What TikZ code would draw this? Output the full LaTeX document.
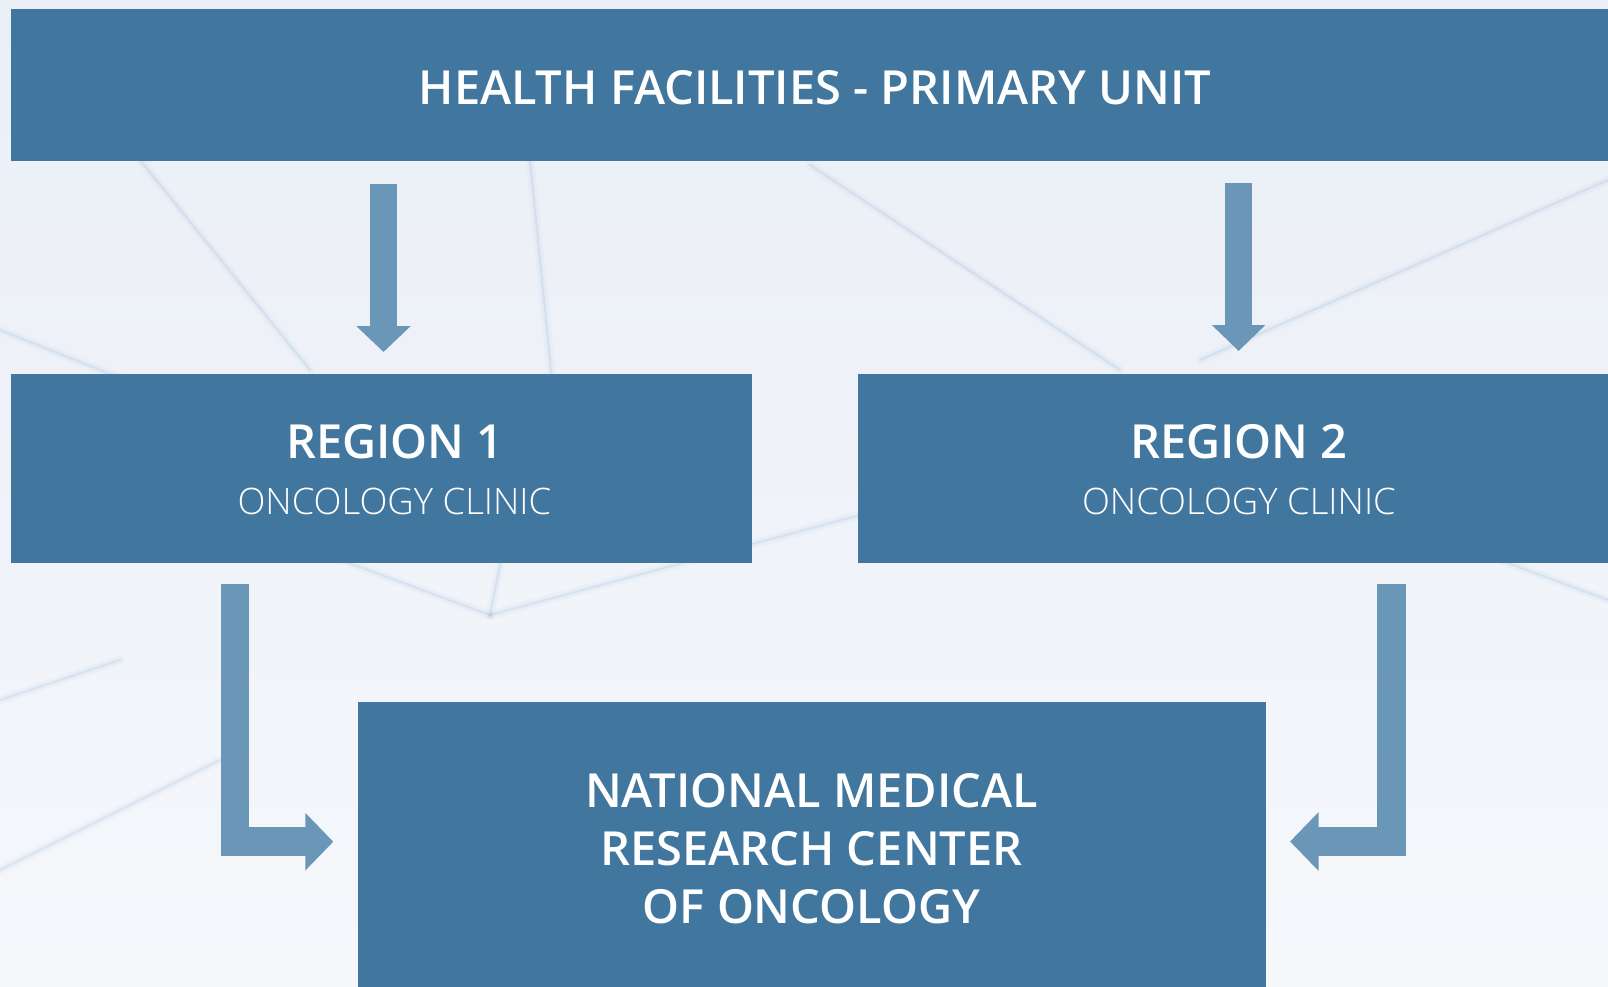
\documentclass[tikz,border=0pt]{standalone}
\usepackage{fontspec}
\setmainfont{Open Sans}
\newfontfamily\semib{Open Sans Semibold}
\newfontfamily\lightf{Open Sans Light}
\usetikzlibrary{arrows.meta}
\definecolor{boxblue}{RGB}{65,119,159}
\definecolor{arrblue}{RGB}{106,150,184}
\definecolor{bgtop}{RGB}{234,239,246}
\definecolor{bgbot}{RGB}{245,247,251}
\definecolor{netblue}{RGB}{110,145,200}
\tikzset{
  box/.style={fill=boxblue, draw=none, inner sep=0pt, anchor=north west},
  title/.style={text=white, font=\semib\fontsize{47}{50}\selectfont, inner sep=0pt},
  sub/.style={text=white, font=\lightf\fontsize{36.5}{40}\selectfont, inner sep=0pt},
  national/.style={text=white, font=\semib\fontsize{47}{58}\selectfont, inner sep=0pt, align=center},
  blockarrow/.style={draw=arrblue, line width=#1, line join=miter, line cap=butt},
  netwide/.style={draw=netblue, line width=9pt, opacity=0.04, line cap=round},
  netmid/.style={draw=netblue, line width=4pt, opacity=0.06, line cap=round},
  netthin/.style={draw=netblue, line width=1.5pt, opacity=0.10, line cap=round}
}
\newcommand{\softline}[2]{%
  \draw[netwide] #1 -- #2;
  \draw[netmid] #1 -- #2;
  \draw[netthin] #1 -- #2;}
\begin{document}
\begin{tikzpicture}[x=1pt,y=-1pt]
\useasboundingbox (0,0) rectangle (1608,987);
\shade[top color=bgtop, bottom color=bgbot] (0,0) rectangle (1608,987);
% faint background network
\softline{(140,160)}{(310,370)}
\softline{(0,330)}{(150,390)}
\softline{(490,615)}{(860,515)}
\softline{(490,615)}{(505,540)}
\softline{(300,545)}{(490,615)}
\softline{(810,165)}{(1120,370)}
\softline{(1200,360)}{(1608,180)}
\softline{(530,160)}{(570,560)}
\softline{(0,700)}{(120,660)}
\softline{(1500,560)}{(1608,600)}
\softline{(0,870)}{(220,760)}
% boxes
\node[box, minimum width=1609pt, minimum height=152.5pt] (top) at (11,8.5) {};
\node[title] (toptext) at (815,87.5) {HEALTH FACILITIES - PRIMARY UNIT};
\node[box, minimum width=740.5pt, minimum height=189pt] (r1) at (11,374) {};
\node[title] (r1a) at (395,442) {REGION 1};
\node[sub] (r1b) at (394.5,501.5) {ONCOLOGY CLINIC};
\node[box, minimum width=762pt, minimum height=189pt] (r2) at (858,374) {};
\node[title] (r2a) at (1239,442) {REGION 2};
\node[sub] (r2b) at (1239,501.5) {ONCOLOGY CLINIC};
\node[box, minimum width=907.5pt, minimum height=300pt] (nat) at (358,702) {};
\node[national] (natt) at (811.5,849) {NATIONAL MEDICAL\\RESEARCH CENTER\\OF ONCOLOGY};
% arrows
\coordinate (a1s) at (383.5,184);
\coordinate (a1e) at (383.5,352);
\coordinate (a2s) at (1238.6,183);
\coordinate (a2e) at (1238.6,351);
\coordinate (a3s) at (235,584);
\coordinate (a3e) at (333.3,841.7);
\coordinate (a4s) at (1391.3,584);
\coordinate (a4e) at (1290,841.5);
\draw[blockarrow=26.5pt, -{Triangle[width=53pt,length=26pt]}] (a1s) -- (a1e);
\draw[blockarrow=27pt, -{Triangle[width=52pt,length=26pt]}] (a2s) -- (a2e);
\draw[blockarrow=28.5pt, -{Triangle[width=56pt,length=28pt]}] (a3s) |- (a3e);
\draw[blockarrow=28.7pt, -{Triangle[width=57pt,length=28.6pt]}] (a4s) |- (a4e);
\end{tikzpicture}
\end{document}
